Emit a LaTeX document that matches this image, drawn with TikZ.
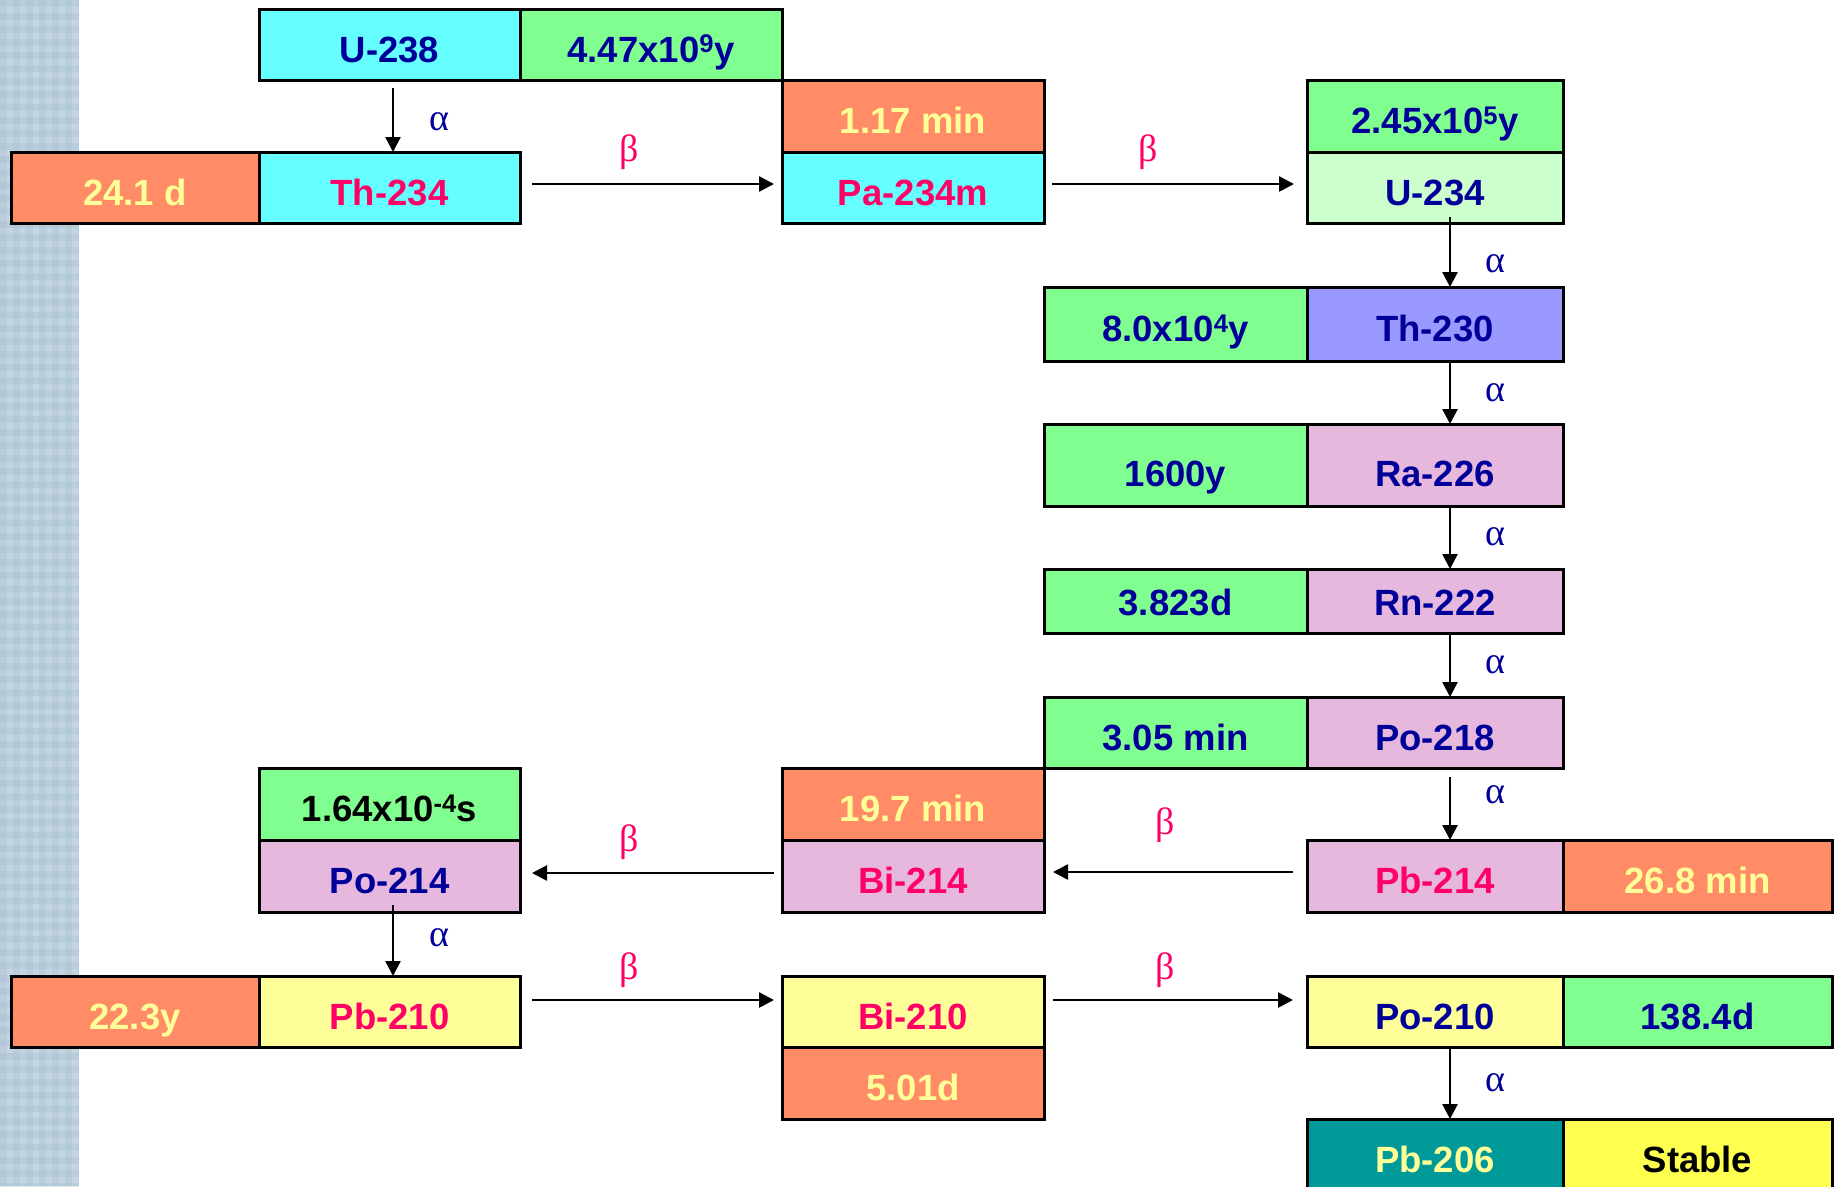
\documentclass[tikz,border=0pt]{standalone}
\usepackage{fontspec}
\setmainfont{Liberation Sans}
\newfontfamily\grkfont{Liberation Serif}
\usetikzlibrary{arrows.meta}
\definecolor{cyanbg}{RGB}{102,255,255}
\definecolor{greenbg}{RGB}{128,255,144}
\definecolor{orangebg}{RGB}{255,140,102}
\definecolor{lgreenbg}{RGB}{204,255,204}
\definecolor{purplebg}{RGB}{153,153,255}
\definecolor{pinkbg}{RGB}{230,184,222}
\definecolor{lyellowbg}{RGB}{255,255,153}
\definecolor{tealbg}{RGB}{0,153,153}
\definecolor{yellowbg}{RGB}{255,255,80}
\definecolor{txtblue}{RGB}{0,0,153}
\definecolor{txtpink}{RGB}{255,0,102}
\definecolor{txtyellow}{RGB}{255,255,153}
\definecolor{stripebase}{RGB}{196,214,226}
\definecolor{stripedark}{RGB}{172,196,211}
\newcommand\isocell[9][]{\node[cellbox,fill=#7,text=#8,minimum width={(#5-#3)*1pt},minimum height={(#6-#4)*1pt},#1] (#2) at ({(#3+#5)/2},{(#4+#6)/2}) {#9};}
\begin{document}
\begin{tikzpicture}[x=1pt,y=-1pt,
  cellbox/.style={draw=black,line width=3pt,inner sep=0pt,outer sep=0pt,
    font=\fontsize{36.5}{40}\selectfont\bfseries,text height=35pt,text depth=0pt,anchor=center},
  decay/.style={draw=black,line width=2.6pt,-{Triangle[length=15pt,width=15pt]}},
  alab/.style={font=\fontsize{38}{42}\selectfont\grkfont,text=txtblue,inner sep=0pt},
  blab/.style={font=\fontsize{38}{42}\selectfont\grkfont,text=txtpink,inner sep=0pt}]
\useasboundingbox (0,0) rectangle (1839,1186);
\clip (0,0) rectangle (1839,1186);
% left stripe
\fill[stripebase] (0,0) rectangle (79,1186);
\foreach \i in {0,13,...,78} {\fill[stripedark,opacity=0.45] (\i,0) rectangle ({min(\i+6.5,79)},1186);}
\foreach \j in {0,13,...,1186} {\fill[stripedark,opacity=0.45] (0,\j) rectangle (79,\j+6.5);}
% cells
\isocell{u238}{259}{9}{520}{80}{cyanbg}{txtblue}{U-238}
\isocell{t1}{520}{9}{782}{80}{greenbg}{txtblue}{4.47x10\textsuperscript{9}y}
\isocell{t2}{11}{152}{259}{223}{orangebg}{txtyellow}{24.1 d}
\isocell{th234}{259}{152}{520}{223}{cyanbg}{txtpink}{Th-234}
\isocell{t3}{782}{80}{1044}{152}{orangebg}{txtyellow}{1.17 min}
\isocell{pa234}{782}{152}{1044}{223}{cyanbg}{txtpink}{Pa-234m}
\isocell{t4}{1307}{80}{1563}{152}{greenbg}{txtblue}{2.45x10\textsuperscript{5}y}
\isocell{u234}{1307}{152}{1563}{223}{lgreenbg}{txtblue}{U-234}
\isocell{t5}{1044}{287}{1307}{361}{greenbg}{txtblue}{8.0x10\textsuperscript{4}y}
\isocell{th230}{1307}{287}{1563}{361}{purplebg}{txtblue}{Th-230}
\isocell[text height=42.8pt]{t6}{1044}{424}{1307}{506}{greenbg}{txtblue}{1600y}
\isocell[text height=42.8pt]{ra226}{1307}{424}{1563}{506}{pinkbg}{txtblue}{Ra-226}
\isocell[text height=28.8pt]{t7}{1044}{569}{1307}{633}{greenbg}{txtblue}{3.823d}
\isocell[text height=28.8pt]{rn222}{1307}{569}{1563}{633}{pinkbg}{txtblue}{Rn-222}
\isocell{t8}{1044}{697}{1307}{768}{greenbg}{txtblue}{3.05 min}
\isocell{po218}{1307}{697}{1563}{768}{pinkbg}{txtblue}{Po-218}
\isocell{t9}{782}{768}{1044}{840}{orangebg}{txtyellow}{19.7 min}
\isocell{bi214}{782}{840}{1044}{912}{pinkbg}{txtpink}{Bi-214}
\isocell{t10}{259}{768}{520}{840}{greenbg}{black}{1.64x10\textsuperscript{-4}s}
\isocell{po214}{259}{840}{520}{912}{pinkbg}{txtblue}{Po-214}
\isocell{pb214}{1307}{840}{1563}{912}{pinkbg}{txtpink}{Pb-214}
\isocell{t11}{1563}{840}{1832}{912}{orangebg}{txtyellow}{26.8 min}
\isocell{t12}{11}{976}{259}{1047}{orangebg}{txtyellow}{22.3y}
\isocell{pb210}{259}{976}{520}{1047}{lyellowbg}{txtpink}{Pb-210}
\isocell{bi210}{782}{976}{1044}{1047}{lyellowbg}{txtpink}{Bi-210}
\isocell{t13}{782}{1047}{1044}{1119}{orangebg}{txtyellow}{5.01d}
\isocell{po210}{1307}{976}{1563}{1047}{lyellowbg}{txtblue}{Po-210}
\isocell{t14}{1563}{976}{1832}{1047}{greenbg}{txtblue}{138.4d}
\isocell{pb206}{1307}{1119}{1563}{1190}{tealbg}{txtyellow}{Pb-206}
\isocell{stable}{1563}{1119}{1832}{1190}{yellowbg}{black}{Stable}
% alpha decays
\draw[decay] ([xshift=3.5pt,yshift=-8pt]u238.south) -- ([xshift=3.5pt]th234.north);
\draw[decay] ([xshift=15pt,yshift=6pt]u234.south) -- ([xshift=15pt]th230.north);
\draw[decay] ([xshift=15pt]th230.south) -- ([xshift=15pt]ra226.north);
\draw[decay] ([xshift=15pt]ra226.south) -- ([xshift=15pt]rn222.north);
\draw[decay] ([xshift=15pt]rn222.south) -- ([xshift=15pt]po218.north);
\draw[decay] ([xshift=15pt,yshift=-9pt]po218.south) -- ([xshift=15pt]pb214.north);
\draw[decay] ([xshift=3.5pt,yshift=7pt]po214.south) -- ([xshift=3.5pt]pb210.north);
\draw[decay] ([xshift=15pt]po210.south) -- ([xshift=15pt]pb206.north);
% beta decays
\draw[decay] ([xshift=12pt,yshift=3.5pt]th234.east) -- ([xshift=-8pt,yshift=3.5pt]pa234.west);
\draw[decay] ([xshift=8pt,yshift=3.5pt]pa234.east) -- ([xshift=-13pt,yshift=3.5pt]u234.west);
\draw[decay] ([xshift=-14pt,yshift=4pt]pb214.west) -- ([xshift=9pt,yshift=4pt]bi214.east);
\draw[decay] ([xshift=-8pt,yshift=3pt]bi214.west) -- ([xshift=12pt,yshift=3pt]po214.east);
\draw[decay] ([xshift=12pt,yshift=11.5pt]pb210.east) -- ([xshift=-8pt,yshift=11.5pt]bi210.west);
\draw[decay] ([xshift=9pt,yshift=11.5pt]bi210.east) -- ([xshift=-14pt,yshift=11.5pt]po210.west);
% labels
\node[alab] (a1) at (439,122) {α};
\node[alab] (a2) at (1495,264) {α};
\node[alab] (a3) at (1495,393) {α};
\node[alab] (a4) at (1495,537) {α};
\node[alab] (a5) at (1495,665) {α};
\node[alab] (a6) at (1495,795) {α};
\node[alab] (a7) at (439,938) {α};
\node[alab] (a8) at (1495,1083) {α};
\node[blab] (b1) at (629,152) {β};
\node[blab] (b2) at (1148,152) {β};
\node[blab] (b3) at (1165,825) {β};
\node[blab] (b4) at (629,842) {β};
\node[blab] (b5) at (629,970) {β};
\node[blab] (b6) at (1165,970) {β};
\end{tikzpicture}
\end{document}
